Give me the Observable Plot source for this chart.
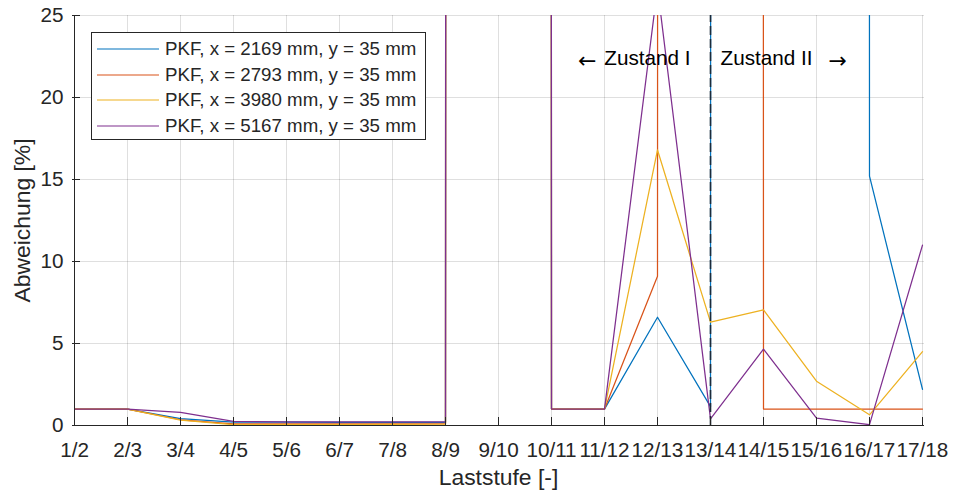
<!DOCTYPE html>
<html>
<head>
<meta charset="utf-8">
<script src="https://cdn.jsdelivr.net/npm/d3@7"></script>
<script src="https://cdn.jsdelivr.net/npm/@observablehq/plot@0.6"></script>
<style>
  html, body { margin: 0; padding: 0; background: #fff; }
  #wrap { position: relative; width: 954px; height: 494px; font-family: "Liberation Sans", Arial, sans-serif; color: #262626; }
  #legend { position: absolute; left: 91px; top: 32px; width: 333px; height: 106px; border: 1px solid #262626; background: #fff; box-sizing: content-box; }
  .row { position: absolute; left: 0; height: 26px; display: flex; align-items: center; font-size: 18.7px; white-space: nowrap; }
  .row svg { margin-left: 5px; margin-right: 6px; }
</style>
</head>
<body>
<div id="wrap"></div>
<script>
// Load steps (categories)
const stages = ["1/2","2/3","3/4","4/5","5/6","6/7","7/8","8/9","9/10","10/11","11/12","12/13","13/14","14/15","15/16","16/17","17/18"];
// Series (deviation in %, very large values lie far above the visible range)
const seriesNames = ["PKF, x = 2169 mm, y = 35 mm","PKF, x = 2793 mm, y = 35 mm","PKF, x = 3980 mm, y = 35 mm","PKF, x = 5167 mm, y = 35 mm"];
const s2169 = [1, 1, 0.42, 0.2, 0.2, 0.19, 0.19, 0.19, 1e4, 1, 1, 6.6, 1.15, 1e4, 1e4, 15.2, 2.2];
const s2793 = [1, 1, 0.35, 0.1, 0.1, 0.1, 0.1, 0.12, 1e4, 1, 1, 9.1, 1e4, 1, 1, 1, 1];
const s3980 = [1, 1, 0.33, 0.05, 0.05, 0.06, 0.07, 0.08, 1e4, 1, 1, 16.8, 6.3, 7.05, 2.7, 0.65, 4.5];
const s5167 = [1, 1, 0.8, 0.25, 0.22, 0.22, 0.22, 0.22, 1e4, 1, 1, 26.7, 0.4, 4.65, 0.45, 0.05, 11.0];
const yTicks = [0, 5, 10, 15, 20, 25];
const colors = ["#0072BD", "#D95319", "#EDB120", "#7E2F8E"];
const allSeries = [s2169, s2793, s3980, s5167];
const boundary = "13/14";
const annoY = 22.4;
const annoLeft = [{stage: boundary, y: annoY, text: "Zustand I"}];
const annoRight = [{stage: boundary, y: annoY, text: "Zustand II"}];
const arrowLeft = [{stage: boundary, y: annoY, text: "\u2190"}];
const arrowRight = [{stage: boundary, y: annoY, text: "\u2192"}];

const W = 954, Hh = 494;
const mL = 72, mR = 30, mT = 15, mB = 69;
const innerW = W - mL - mR, innerH = Hh - mT - mB;
const ink = "#262626";

const lineMarks = allSeries.map((vals, k) =>
  Plot.line(stages.map((s, i) => ({stage: s, v: vals[i]})), {
    x: "stage", y: "v", stroke: colors[k], strokeWidth: 1.25, clip: true
  })
);

const chart = Plot.plot({
  width: W, height: Hh,
  marginLeft: mL, marginRight: mR, marginTop: mT, marginBottom: mB,
  style: {fontFamily: "Liberation Sans, Arial, sans-serif", fontSize: "20.7px", color: ink, background: "#fff", overflow: "visible"},
  x: {type: "point", domain: stages, padding: 0},
  y: {domain: [0, 25]},
  marks: [
    Plot.gridX(stages, {stroke: ink, strokeOpacity: 0.15, strokeWidth: 1}),
    Plot.gridY(yTicks, {stroke: ink, strokeOpacity: 0.15, strokeWidth: 1}),
    ...lineMarks,
    Plot.ruleX([boundary], {y1: 0, y2: 25, stroke: "#1c2b3a", strokeWidth: 1.6, strokeDasharray: "9,4"}),
    Plot.text(annoLeft, {x: "stage", y: "y", text: "text", textAnchor: "end", lineAnchor: "middle", dx: -20, fontSize: 20.7, fill: "#000"}),
    Plot.text(annoRight, {x: "stage", y: "y", text: "text", textAnchor: "start", lineAnchor: "middle", dx: 10, fontSize: 20.7, fill: "#000"}),
    Plot.text(arrowLeft, {x: "stage", y: "y", text: "text", textAnchor: "end", lineAnchor: "middle", dx: -114, dy: 3, fontSize: 22, fontFamily: "DejaVu Sans", fill: "#000"}),
    Plot.text(arrowRight, {x: "stage", y: "y", text: "text", textAnchor: "start", lineAnchor: "middle", dx: 118, dy: 3, fontSize: 22, fontFamily: "DejaVu Sans", fill: "#000"}),
    Plot.ruleY([0], {stroke: ink, strokeWidth: 1}),
    Plot.ruleX([stages[0]], {stroke: ink, strokeWidth: 1}),
    Plot.tickX(stages, {x: (d) => d, insetTop: innerH - 8, stroke: ink, strokeWidth: 1}),
    Plot.tickY(yTicks, {y: (d) => d, insetRight: innerW - 8, stroke: ink, strokeWidth: 1}),
    Plot.axisX(stages, {tickSize: 0, tickPadding: 17, label: null, fill: ink, fontSize: 20.7}),
    Plot.axisY(yTicks, {tickSize: 0, tickPadding: 9, label: null, fill: ink, fontSize: 20.7}),
    Plot.text(["Laststufe [-]"], {frameAnchor: "bottom", textAnchor: "middle", lineAnchor: "middle", dy: 52, fontSize: 22.9, fill: ink}),
    Plot.text(["Abweichung [%]"], {frameAnchor: "left", textAnchor: "middle", lineAnchor: "middle", rotate: -90, dx: -50, fontSize: 22.9, fill: ink})
  ]
});

const wrap = document.getElementById("wrap");
wrap.appendChild(chart);

// Legend
const legend = document.createElement("div");
legend.id = "legend";
seriesNames.forEach((name, k) => {
  const row = document.createElement("div");
  row.className = "row";
  row.style.top = (3 + k * 25.6) + "px";
  row.innerHTML = `<svg width="62" height="4"><line x1="0" x2="62" y1="2" y2="2" stroke="${colors[k]}" stroke-width="1.2"/></svg><span>${name}</span>`;
  legend.appendChild(row);
});
wrap.appendChild(legend);
</script>
</body>
</html>
